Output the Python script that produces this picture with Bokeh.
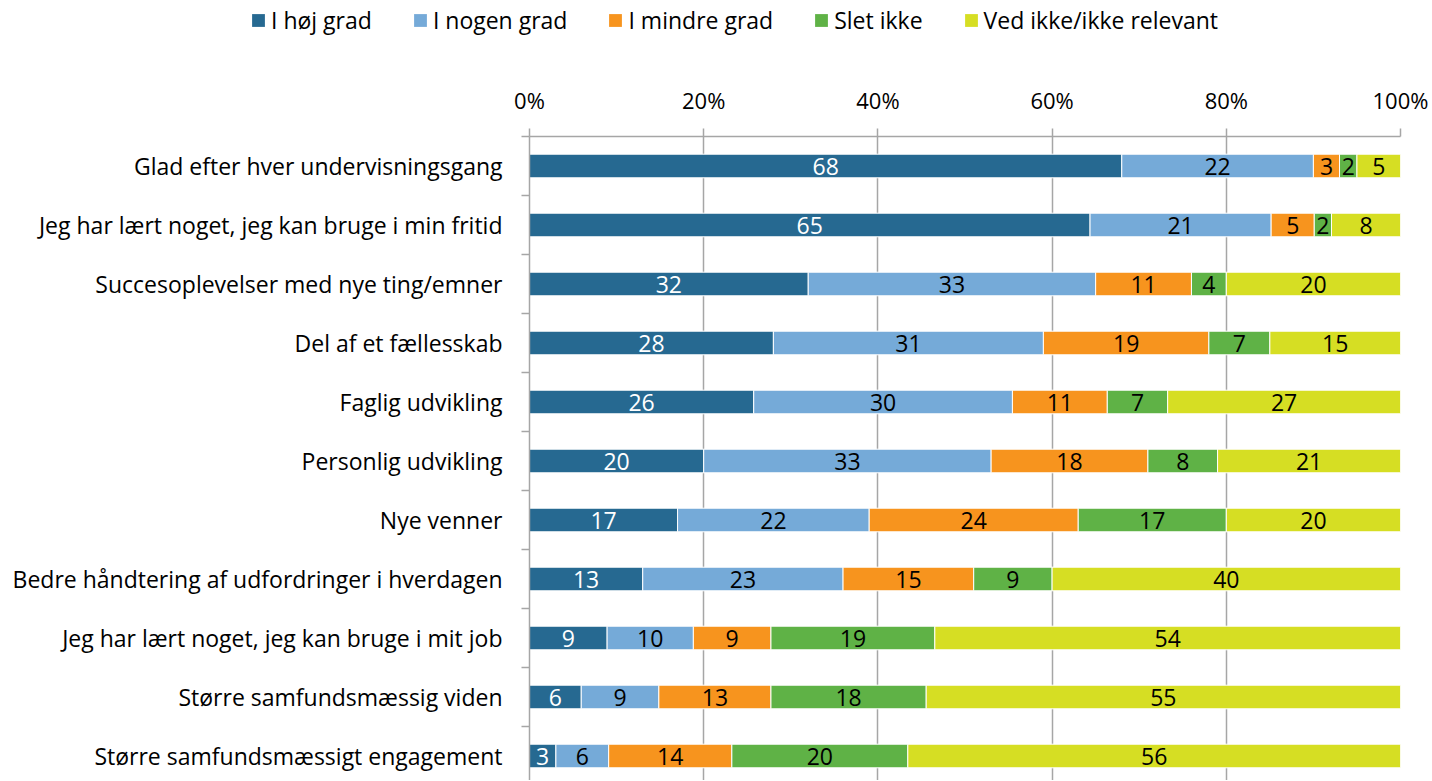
from bokeh.plotting import figure
from bokeh.models import (ColumnDataSource, Range1d, FixedTicker, Legend, LegendItem,
                          NumeralTickFormatter)
from bokeh.core.properties import value
from bokeh.embed import file_html
from bokeh.resources import INLINE

categories = [
    "Glad efter hver undervisningsgang",
    "Jeg har lært noget, jeg kan bruge i min fritid",
    "Succesoplevelser med nye ting/emner",
    "Del af et fællesskab",
    "Faglig udvikling",
    "Personlig udvikling",
    "Nye venner",
    "Bedre håndtering af udfordringer i hverdagen",
    "Jeg har lært noget, jeg kan bruge i mit job",
    "Større samfundsmæssig viden",
    "Større samfundsmæssigt engagement",
]
series = ["I høj grad", "I nogen grad", "I mindre grad", "Slet ikke", "Ved ikke/ikke relevant"]
hoej = [68, 65, 32, 28, 26, 20, 17, 13, 9, 6, 3]
nogen = [22, 21, 33, 31, 30, 33, 22, 23, 10, 9, 6]
mindre = [3, 5, 11, 19, 11, 18, 24, 15, 9, 13, 14]
slet = [2, 2, 4, 7, 7, 8, 17, 9, 19, 18, 20]
vedikke = [5, 8, 20, 15, 27, 21, 20, 40, 54, 55, 56]
colors = ["#266991", "#75AAD8", "#F7941E", "#5FB246", "#D6DE23"]
text_colors = ["white", "black", "black", "black", "black"]
x_ticks = [0, 0.2, 0.4, 0.6, 0.8, 1.0]

FONT = "Open Sans"
FS = "23px"
FS_TICK = "22px"
all_series = [hoej, nogen, mindre, slet, vedikke]
n = len(categories)
keys = ["s%d" % k for k in range(len(series))]

totals = [sum(s[i] for s in all_series) for i in range(n)]
data = {"y": list(range(n))}
for k, vals in zip(keys, all_series):
    data[k] = [vals[i] / totals[i] for i in range(n)]
src = ColumnDataSource(data)

lx, ly, lt, lc = [], [], [], []
for i in range(n):
    cum = 0.0
    for k, vals in enumerate(all_series):
        frac = vals[i] / totals[i]
        lx.append(cum + frac / 2)
        ly.append(i)
        lt.append(str(vals[i]))
        lc.append(text_colors[k])
        cum += frac
lab_src = ColumnDataSource(dict(x=lx, y=ly, t=lt, c=lc))

W = 1432
LEG_H = 40
H = 740
frame_top = 136 - LEG_H
row_px = 59.0
frame_h = H - frame_top
y_end = -0.5 + frame_h / row_px

# ---- legend strip (separate root so its frame spans the full width) ----
lg = figure(width=W, height=LEG_H, output_backend="svg", toolbar_location=None,
            x_axis_location=None, y_axis_location=None,
            x_range=Range1d(0, 1), y_range=Range1d(0, 1))
lg.min_border = 0
lg.outline_line_color = None
lg.grid.visible = False
leg_items = []
for s, c in zip(series, colors):
    # one bar far outside the visible range: only its legend swatch is seen
    r = lg.hbar(y=[5], left=[4], right=[5], height=1, fill_color=c, line_color=None)
    leg_items.append(LegendItem(label=s, renderers=[r]))
legend = Legend(items=leg_items, orientation="horizontal", location="center_left",
                margin=250, glyph_width=16, glyph_height=16, label_standoff=5, spacing=40,
                padding=0, border_line_color=None, background_fill_alpha=0,
                label_text_font=FONT, label_text_font_size=FS, label_text_color="black")
lg.add_layout(legend)

# ---- main chart ----
p = figure(width=W, height=H, output_backend="svg", toolbar_location=None,
           x_range=Range1d(0, 1), y_range=Range1d(y_end, -0.5),
           x_axis_location="above")
p.min_border_left = 529
p.min_border_right = 32
p.min_border_top = frame_top
p.min_border_bottom = 0
p.outline_line_color = None

p.hbar_stack(keys, y="y", height=0.4, color=colors, line_color="white",
             line_width=1, source=src)

p.text(x="x", y="y", text="t", text_color="c", source=lab_src, text_align="center",
       text_baseline="middle", text_font=value(FONT), text_font_size=FS)

grid_col = "#A6A6A6"
p.xaxis.ticker = FixedTicker(ticks=x_ticks)
p.xaxis.formatter = NumeralTickFormatter(format="0%")
p.xaxis.major_tick_out = 8
p.xaxis.major_tick_in = 0
p.xaxis.minor_tick_out = 0
p.xaxis.minor_tick_in = 0
p.xaxis.axis_line_color = grid_col
p.xaxis.axis_line_width = 1.5
p.xaxis.major_tick_line_color = grid_col
p.xaxis.major_tick_line_width = 1.5
p.xaxis.major_label_text_font = FONT
p.xaxis.major_label_text_font_size = FS_TICK
p.xaxis.major_label_text_color = "black"
p.xaxis.major_label_standoff = 14

p.yaxis.ticker = FixedTicker(ticks=list(range(n)), minor_ticks=[i - 0.5 for i in range(n + 1)])
p.yaxis.major_label_overrides = {i: c for i, c in enumerate(categories)}
p.yaxis.major_tick_out = 0
p.yaxis.major_tick_in = 0
p.yaxis.minor_tick_out = 8
p.yaxis.minor_tick_in = 0
p.yaxis.minor_tick_line_color = grid_col
p.yaxis.minor_tick_line_width = 1.5
p.yaxis.axis_line_color = grid_col
p.yaxis.axis_line_width = 1.5
p.yaxis.major_label_text_font = FONT
p.yaxis.major_label_text_font_size = FS
p.yaxis.major_label_text_color = "black"
p.yaxis.major_label_standoff = 19

p.xgrid.ticker = FixedTicker(ticks=x_ticks)
p.xgrid.grid_line_color = grid_col
p.xgrid.grid_line_width = 1.5
p.ygrid.visible = False

open("out.html", "w").write(file_html([lg, p], INLINE))
